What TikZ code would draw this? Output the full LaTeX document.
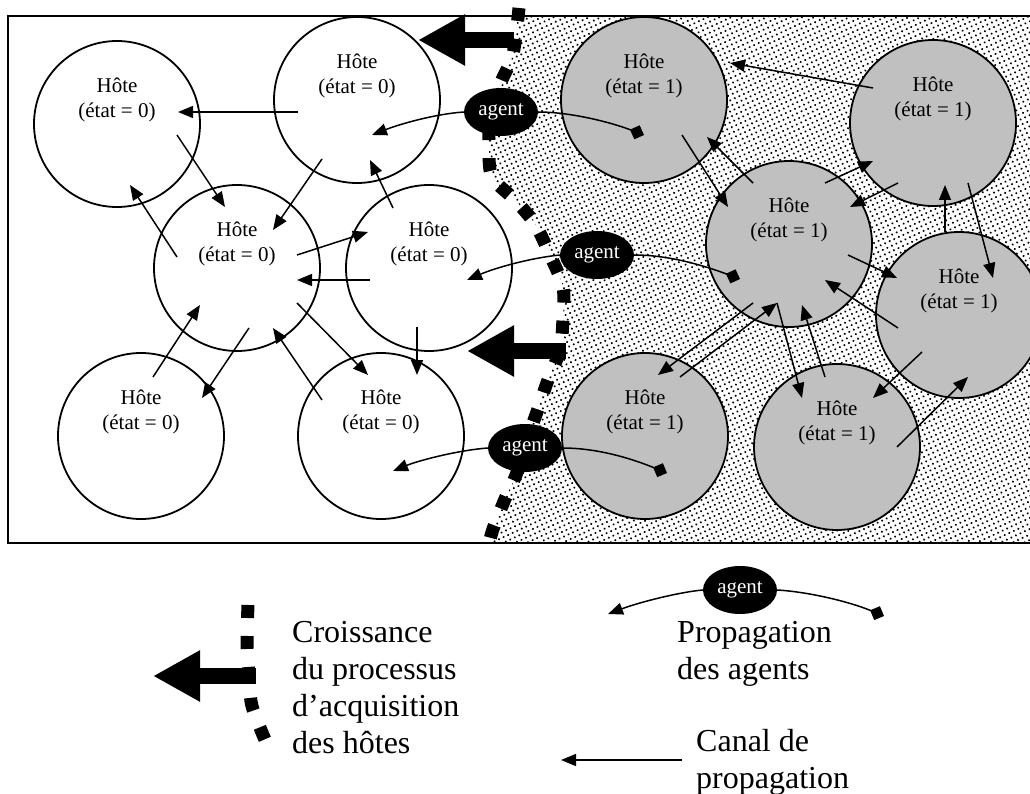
\documentclass[tikz,border=0pt]{standalone}
\usepackage{fontspec}
\setmainfont{Liberation Serif}
\usetikzlibrary{arrows.meta,shapes.geometric,patterns.meta,calc}
\definecolor{hostgray}{RGB}{192,192,192}
\begin{document}
\begin{tikzpicture}[x=1pt,y=-1pt,
  host/.style={circle,draw,line width=1.8pt,minimum size=166pt,inner sep=0pt},
  host0/.style={host,fill=white},
  host1/.style={host,fill=hostgray},
  htext/.style={font=\fontsize{21}{25}\selectfont,align=center,inner sep=0pt},
  conn/.style={line width=1.5pt,-{Triangle[length=15pt,width=12pt]}},
  dconn/.style={line width=1.5pt,-{Diamond[length=15pt,width=15pt]}},
  agent/.style={ellipse,fill=black,text=white,minimum width=74pt,minimum height=48pt,inner sep=0pt,font=\fontsize{21}{25}\selectfont},
  bigarrow/.style={line width=16pt,-{Triangle[length=47pt,width=48pt]}},
  growth/.style={line width=13pt,dash pattern=on 13pt off 18pt},
  legend/.style={font=\fontsize{32}{37}\selectfont,align=left,inner sep=0pt,anchor=north west}
]
\useasboundingbox (0,0) rectangle (1030,794);
\clip (0,0) rectangle (1030,794);
\fill[white] (0,0) rectangle (1030,794);

% dotted region (infected side)
\begin{scope}
\clip (8,16) rectangle (1040,543);
\fill[pattern={Dots[radius=1.15pt,distance=5pt,angle=25]},pattern color=black]
  plot[smooth] coordinates {(519,4) (513,54) (501,82) (490,113) (489,147) (492,177) (515,200) (535,224) (550,255) (563,287) (563,318) (560,350) (548,380) (538,409) (527,440) (516,475) (505,499) (493,529) (487,560)}
  -- (1040,560) -- (1040,0) -- cycle;
\end{scope}

% frame
\draw[line width=2pt] (1040,16) -- (8,16) -- (8,543) -- (1040,543);

% hosts, state 0
\node[host0] (h1) at (117,124) {};
\node[host0] (h2) at (357,100) {};
\node[host0] (h3) at (237,268) {};
\node[host0] (h4) at (429,268) {};
\node[host0] (h5) at (141,436) {};
\node[host0] (h6) at (381,436) {};
% hosts, state 1
\node[host1] (r1) at (644,100) {};
\node[host1] (r2) at (933,123) {};
\node[host1] (r3) at (789,244) {};
\node[host1] (r4) at (959,315) {};
\node[host1] (r5) at (645,436) {};
\node[host1] (r6) at (837,447) {};

\foreach \n in {h1,h2,h3,h4,h5,h6}
  \node[htext] (\n t) at ($(\n.center)+(0,-24)$) {Hôte\\(état = 0)};
\foreach \n in {r1,r2,r3,r4,r5,r6}
  \node[htext] (\n t) at ($(\n.center)+(0,-24)$) {Hôte\\(état = 1)};

% propagation channels, left side
\draw[conn] ($(h2)+(-59,12)$) -- ($(h1)+(61,-12)$);
\draw[conn] ($(h1)+(60,11)$) -- ($(h3)+(-12,-61)$);
\draw[conn] ($(h3)+(-60,-11)$) -- ($(h1)+(13,61)$);
\draw[conn] ($(h2)+(-35,59)$) -- ($(h3)+(36,-38)$);
\draw[conn] ($(h4)+(-36,-60)$) -- ($(h2)+(13,60)$);
\draw[conn] ($(h3)+(60,-13)$) -- ($(h4)+(-61,-36)$);
\draw[conn] ($(h4)+(-59,12)$) -- ($(h3)+(60,12)$);
\draw[conn] ($(h5)+(12,-59)$) -- ($(h3)+(-37,37)$);
\draw[conn] ($(h3)+(12,60)$) -- ($(h5)+(61,-38)$);
\draw[conn] ($(h6)+(-59,-36)$) -- ($(h3)+(36,60)$);
\draw[conn] ($(h3)+(60,35)$) -- ($(h6)+(-13,-61)$);
\draw[conn] ($(h4)+(-12,59)$) -- ($(h6)+(36,-61)$);

% propagation channels, right side
\draw[conn] ($(r2)+(-60,-35)$) -- ($(r1)+(86,-37)$);
\draw[conn] ($(r1)+(38,35)$) -- ($(r3)+(-61,-37)$);
\draw[conn] ($(r3)+(-36,-61)$) -- ($(r1)+(63,37)$);
\draw[conn] ($(r3)+(36,-61)$) -- ($(r2)+(-60,38)$);
\draw[conn] ($(r2)+(-35,60)$) -- ($(r3)+(61,-37)$);
\draw[conn] ($(r4)+(-14,-83)$) -- ($(r2)+(12,62)$);
\draw[conn] ($(r2)+(35,60)$) -- ($(r4)+(34,-37)$);
\draw[conn] ($(r3)+(59,11)$) -- ($(r4)+(-62,-37)$);
\draw[conn] ($(r4)+(-61,13)$) -- ($(r3)+(36,36)$);
\draw[conn] ($(r3)+(-36,59)$) -- ($(r5)+(13,-61)$);
\draw[conn] ($(r5)+(35,-59)$) -- ($(r3)+(-12,59)$);
\draw[conn] ($(r3)+(-12,59)$) -- ($(r6)+(-35,-49)$);
\draw[conn] ($(r6)+(-12,-70)$) -- ($(r3)+(13,61)$);
\draw[conn] ($(r4)+(-37,37)$) -- ($(r6)+(36,-49)$);
\draw[conn] ($(r6)+(60,0)$) -- ($(r4)+(9,62)$);

% growth front
\draw[growth] plot[smooth] coordinates {(519,8) (513,54) (501,82) (490,113) (489,147) (492,177) (515,200) (535,224) (550,255) (563,287) (563,318) (560,350) (548,380) (538,409) (527,440) (516,475) (505,499) (493,529) (489,544)};

% big arrows
\coordinate (g1s) at (514,40);
\coordinate (g1t) at (418,40);
\draw[bigarrow] (g1s) -- (g1t);
\coordinate (g2s) at (566,351);
\coordinate (g2t) at (467,351);
\draw[bigarrow] (g2s) -- (g2t);

% agents
\node[agent] (a1) at (501,112) {agent};
\node[agent] (a2) at (597,255) {agent};
\node[agent] (a3) at (525,448) {agent};

\coordinate (t1) at (372,135);
\coordinate (d1) at (644,135);
\coordinate (t2) at (467,280);
\coordinate (d2) at (740,279);
\coordinate (t3) at (393,471);
\coordinate (d3) at (667,473);
\draw[conn] (a1.west) .. controls (435,114) and (400,124) .. (t1);
\draw[dconn] (a1.east) .. controls (570,112) and (610,122) .. (d1);
\draw[conn] (a2.west) .. controls (530,258) and (495,268) .. (t2);
\draw[dconn] (a2.east) .. controls (670,255) and (705,266) .. (d2);
\draw[conn] (a3.west) .. controls (460,450) and (420,460) .. (t3);
\draw[dconn] (a3.east) .. controls (600,448) and (635,460) .. (d3);

% legend: growth
\draw[growth] plot[smooth] coordinates {(248,605) (247,643) (249,676) (252,706) (266,742)};
\coordinate (g3s) at (256,676);
\coordinate (g3t) at (153,676);
\draw[bigarrow] (g3s) -- (g3t);
\node[legend] (lg1) at (292,621) {Croissance\\du processus\\d’acquisition\\des hôtes};

% legend: agents
\node[agent] (a4) at (740,590) {agent};
\coordinate (t4) at (608,614);
\coordinate (d4) at (884,616);
\draw[conn] (a4.west) .. controls (680,592) and (640,602) .. (t4);
\draw[dconn] (a4.east) .. controls (810,592) and (850,602) .. (d4);
\node[legend] (lg2) at (677,621) {Propagation\\des agents};

% legend: channel
\coordinate (c1) at (682,760);
\coordinate (c2) at (561,760);
\draw[conn] (c1) -- (c2);
\node[legend] (lg3) at (696,729) {Canal de\\propagation};
\end{tikzpicture}
\end{document}
